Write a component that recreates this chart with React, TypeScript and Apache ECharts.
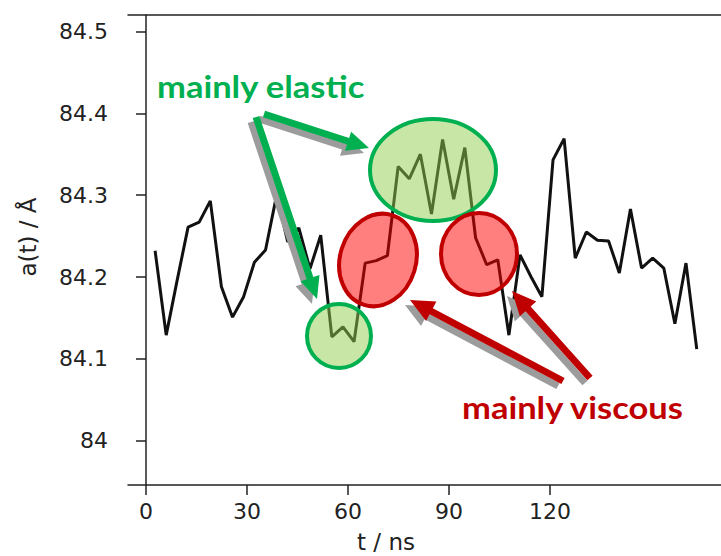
import React, { useEffect, useRef } from "react";
import * as echarts from "echarts";

const times = [2.7, 6.0, 9.2, 12.5, 15.8, 19.1, 22.4, 25.7, 29.0, 32.2, 35.5, 38.8, 42.1, 45.4, 48.7, 51.9, 55.2, 58.5, 61.8, 65.1, 68.4, 71.7, 74.9, 78.2, 81.5, 84.8, 88.1, 91.4, 94.7, 97.9, 101.2, 104.5, 107.8, 111.1, 114.4, 117.6, 120.9, 124.2, 127.5, 130.8, 134.1, 137.4, 140.6, 143.9, 147.2, 150.5, 153.8, 157.1, 160.4, 163.6];
const values = [84.232, 84.129, 84.195, 84.261, 84.267, 84.293, 84.188, 84.151, 84.176, 84.218, 84.233, 84.300, 84.243, 84.260, 84.210, 84.251, 84.127, 84.139, 84.121, 84.217, 84.220, 84.226, 84.335, 84.320, 84.350, 84.277, 84.368, 84.295, 84.358, 84.248, 84.215, 84.221, 84.129, 84.227, 84.200, 84.176, 84.343, 84.369, 84.223, 84.255, 84.245, 84.244, 84.205, 84.283, 84.211, 84.223, 84.211, 84.143, 84.217, 84.112];
const xTicks = [0, 30, 60, 90, 120];
const yTicks = [84, 84.1, 84.2, 84.3, 84.4, 84.5];

const GREEN = "#00b050";
const RED = "#c00000";
const SHADOW = "#9c9c9c";

function arrowPts(x1: number, y1: number, x2: number, y2: number, w: number, hl: number, hw: number) {
  const dx = x2 - x1, dy = y2 - y1;
  const L = Math.hypot(dx, dy);
  const ux = dx / L, uy = dy / L;
  const px = -uy, py = ux;
  const bx = x2 - ux * hl, by = y2 - uy * hl;
  return [
    [x1 + px * w / 2, y1 + py * w / 2],
    [bx + px * w / 2, by + py * w / 2],
    [bx + px * hw / 2, by + py * hw / 2],
    [x2, y2],
    [bx - px * hw / 2, by - py * hw / 2],
    [bx - px * w / 2, by - py * w / 2],
    [x1 - px * w / 2, y1 - py * w / 2],
  ];
}

function arrowWithShadow(x1: number, y1: number, x2: number, y2: number, color: string, w: number, hl: number, hw: number) {
  const sx = -5, sy = 5;
  return [
    { type: "polygon", z: 110, shape: { points: arrowPts(x1 + sx, y1 + sy, x2 + sx, y2 + sy, w, hl, hw) }, style: { fill: SHADOW } },
    { type: "polygon", z: 111, shape: { points: arrowPts(x1, y1, x2, y2, w, hl, hw) }, style: { fill: color } },
  ];
}

export default function App() {
  const ref = useRef<HTMLDivElement>(null);
  useEffect(() => {
    if (!ref.current) return;
    const chart = echarts.init(ref.current, null, { renderer: "svg" });
    const data = times.map((t, i) => [t, values[i]]);
    const labelStyle = { fontFamily: "DejaVu Sans", fontSize: 22, color: "#222" };
    const axisLine = { show: true, lineStyle: { color: "#222", width: 1.5 } };
    chart.setOption({
      animation: false,
      grid: { left: 128, top: 15, bottom: 71, right: 0, show: false },
      xAxis: [
        {
          type: "value",
          min: -5.35,
          max: 170.8,
          axisLine,
          axisTick: { show: true, length: 10, lineStyle: { color: "#222", width: 1.5 }, customValues: xTicks },
          axisLabel: { ...labelStyle, margin: 15, customValues: xTicks },
          splitLine: { show: false },
        },
        {
          type: "value",
          position: "top",
          min: -5.35,
          max: 170.8,
          axisLine,
          axisTick: { show: false },
          axisLabel: { show: false },
          splitLine: { show: false },
        },
      ],
      yAxis: {
        type: "value",
        min: 83.946,
        max: 84.52,
        axisLine,
        axisTick: { show: true, length: 10, lineStyle: { color: "#222", width: 1.5 }, customValues: yTicks },
        axisLabel: { ...labelStyle, margin: 20, customValues: yTicks, formatter: (v: number) => (Math.abs(v - 84) < 1e-6 ? "84" : v.toFixed(1)) },
        splitLine: { show: false },
      },
      series: [
        {
          type: "line",
          data,
          symbol: "none",
          lineStyle: { color: "#111", width: 3 },
          z: 2,
        },
      ],
      graphic: [
        { type: "text", x: 386, y: 542, z: 100, style: { text: "t / ns", fontFamily: "DejaVu Sans", fontSize: 23, fill: "#222", align: "center", verticalAlign: "middle" } },
        { type: "text", x: 28, y: 237, rotation: Math.PI / 2, z: 100, style: { text: "a(t) / Å", fontFamily: "DejaVu Sans", fontSize: 23, fill: "#222", align: "center", verticalAlign: "middle" } },
        { type: "ellipse", z: 105, shape: { cx: 433, cy: 170, rx: 63, ry: 51 }, style: { fill: "rgba(146,208,80,0.5)", stroke: GREEN, lineWidth: 4 } },
        { type: "ellipse", z: 105, shape: { cx: 339, cy: 336, rx: 32, ry: 32 }, style: { fill: "rgba(146,208,80,0.5)", stroke: GREEN, lineWidth: 4 } },
        { type: "ellipse", z: 105, x: 378, y: 260, rotation: -0.3, shape: { cx: 0, cy: 0, rx: 38, ry: 47 }, style: { fill: "rgba(255,0,0,0.5)", stroke: RED, lineWidth: 4 } },
        { type: "ellipse", z: 105, shape: { cx: 479, cy: 254, rx: 38, ry: 41 }, style: { fill: "rgba(255,0,0,0.5)", stroke: RED, lineWidth: 4 } },
        ...arrowWithShadow(264, 114, 369, 148, GREEN, 7, 22, 20),
        ...arrowWithShadow(256, 117, 317, 299, GREEN, 7, 22, 20),
        ...arrowWithShadow(563, 381, 410, 300, RED, 7, 24, 22),
        ...arrowWithShadow(590, 378, 512, 291, RED, 7, 24, 22),
        { type: "text", x: 157, y: 86, scaleX: 1.15, z: 120, style: { text: "mainly elastic", fontFamily: "Lato", fontWeight: "bold", fontSize: 30, fill: GREEN, align: "left", verticalAlign: "middle" } },
        { type: "text", x: 462, y: 407, scaleX: 1.15, z: 120, style: { text: "mainly viscous", fontFamily: "Lato", fontWeight: "bold", fontSize: 30, fill: RED, align: "left", verticalAlign: "middle" } },
      ],
    });
    return () => chart.dispose();
  }, []);
  return <div ref={ref} style={{ width: 721, height: 556, position: "absolute", left: 0, top: 0 }} />;
}
